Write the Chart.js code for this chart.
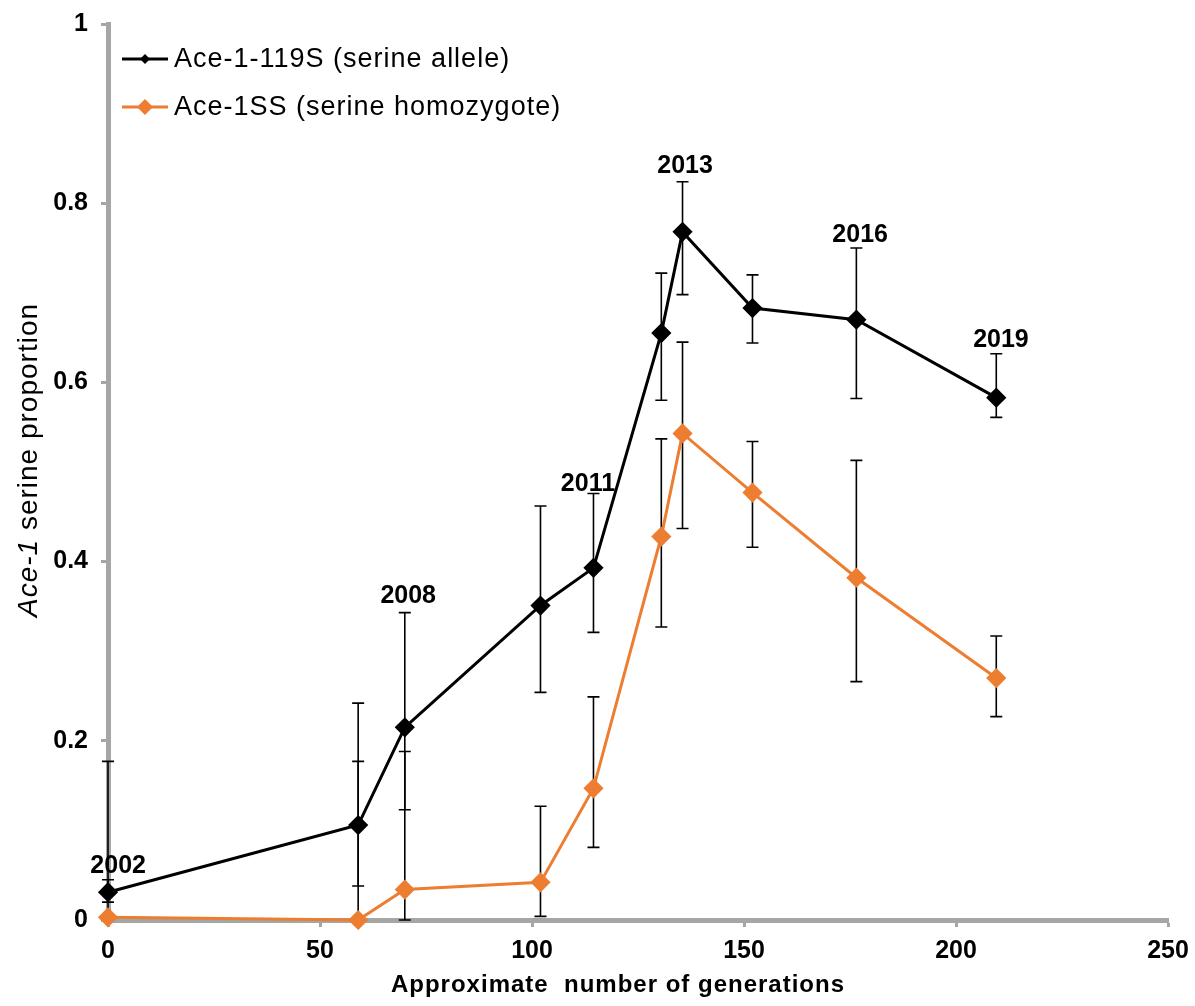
<!DOCTYPE html>
<html>
<head>
<meta charset="utf-8">
<script src="https://cdn.jsdelivr.net/npm/chart.js@4.4.1/dist/chart.umd.min.js"></script>
<style>
  html, body { margin: 0; padding: 0; background: #fff; }
  #wrap { width: 1195px; height: 1006px; position: relative; }
</style>
</head>
<body>
<div id="wrap"><canvas id="chart" width="1195" height="1006"></canvas></div>
<script>
// approximate number of generations (x) for each sampling year
const generations = [0, 59, 70, 102, 114.5, 130.5, 135.5, 152, 176.5, 209.5];

// Ace-1-119S (serine allele)
const alleleValues = [0.031, 0.106, 0.215, 0.351, 0.393, 0.655, 0.768, 0.683, 0.670, 0.583];
const alleleUpper  = [0.177, 0.242, 0.343, 0.462, 0.476, 0.722, 0.824, 0.720, 0.750, 0.632];
const alleleLower  = [0.020, 0.038, 0.123, 0.254, 0.321, 0.580, 0.698, 0.644, 0.582, 0.561];

// Ace-1SS (serine homozygote)
const homoValues = [0.003, 0.0, 0.034, 0.042, 0.147, 0.428, 0.543, 0.477, 0.382, 0.270];
const homoUpper  = [0.045, 0.177, 0.188, 0.127, 0.249, 0.537, 0.645, 0.534, 0.513, 0.317];
const homoLower  = [0.0, 0.0, 0.0, 0.004, 0.081, 0.327, 0.437, 0.416, 0.266, 0.227];

// year annotations, placed in data coordinates
const yearLabels = ["2002", "2008", "2011", "2013", "2016", "2019"];
const yearX = [2.4, 70.8, 113.2, 136.1, 177.4, 210.6];
const yearY = [0.060, 0.361, 0.487, 0.841, 0.764, 0.647];

const xTicks = [0, 50, 100, 150, 200, 250];
const yTicks = [0, 0.2, 0.4, 0.6, 0.8, 1];

const ORANGE = "#ED7D31";
const AXIS_GREY = "#a6a6a6";
const FONT = "'Liberation Sans', Arial, sans-serif";

function toPoints(xs, ys) {
  return xs.map((x, i) => ({ x: x, y: ys[i] }));
}

// error bars, drawn under the lines
const errorBars = {
  id: "errorBars",
  beforeDatasetsDraw(chart) {
    const ctx = chart.ctx;
    const xs = chart.scales.x;
    const ys = chart.scales.y;
    const sets = [[alleleUpper, alleleLower], [homoUpper, homoLower]];
    ctx.save();
    ctx.strokeStyle = "#000";
    ctx.lineWidth = 1.6;
    sets.forEach(([up, lo]) => {
      generations.forEach((g, i) => {
        const px = xs.getPixelForValue(g);
        const top = ys.getPixelForValue(up[i]);
        const bot = ys.getPixelForValue(lo[i]);
        ctx.beginPath();
        ctx.moveTo(px, top); ctx.lineTo(px, bot);
        ctx.moveTo(px - 6, top); ctx.lineTo(px + 6, top);
        ctx.moveTo(px - 6, bot); ctx.lineTo(px + 6, bot);
        ctx.stroke();
      });
    });
    ctx.restore();
  }
};

// legend box, year labels, x title and the mixed-style y title
const extras = {
  id: "extras",
  afterDraw(chart) {
    const ctx = chart.ctx;
    const area = chart.chartArea;
    const xs = chart.scales.x;
    const ys = chart.scales.y;
    ctx.save();

    // year labels
    ctx.fillStyle = "#000";
    ctx.font = "bold 25px " + FONT;
    ctx.textAlign = "center";
    ctx.textBaseline = "middle";
    yearLabels.forEach((lab, i) => {
      ctx.fillText(lab, xs.getPixelForValue(yearX[i]), ys.getPixelForValue(yearY[i]));
    });

    // x axis title
    ctx.letterSpacing = "1px";
    ctx.font = "bold 24px " + FONT;
    ctx.fillText("Approximate  number of generations", (area.left + area.right) / 2 - 20, 985);

    // legend
    const items = chart.data.datasets;
    items.forEach((ds, i) => {
      const y = area.top + 35 + i * 48;
      const x0 = area.left + 14;
      ctx.strokeStyle = ds.borderColor;
      ctx.lineWidth = 3;
      ctx.beginPath();
      ctx.moveTo(x0, y); ctx.lineTo(x0 + 46, y);
      ctx.stroke();
      const r = i === 0 ? 5 : 8;
      ctx.fillStyle = ds.borderColor;
      ctx.beginPath();
      ctx.moveTo(x0 + 23, y - r); ctx.lineTo(x0 + 23 + r, y);
      ctx.lineTo(x0 + 23, y + r); ctx.lineTo(x0 + 23 - r, y);
      ctx.closePath();
      ctx.fill();
      ctx.fillStyle = "#000";
      ctx.font = "27px " + FONT;
      ctx.textAlign = "left";
      ctx.textBaseline = "middle";
      ctx.fillText(ds.label, x0 + 52, y + 1);
    });

    // y axis title: "Ace-1" italic, rest upright
    ctx.translate(29, (area.top + area.bottom) / 2 - 12);
    ctx.rotate(-Math.PI / 2);
    ctx.textBaseline = "middle";
    ctx.textAlign = "left";
    const part1 = "Ace-1";
    const part2 = " serine proportion";
    ctx.font = "italic 28px " + FONT;
    const w1 = ctx.measureText(part1).width;
    ctx.font = "28px " + FONT;
    const w2 = ctx.measureText(part2).width;
    const start = -(w1 + w2) / 2;
    ctx.font = "italic 28px " + FONT;
    ctx.fillText(part1, start, 0);
    ctx.font = "28px " + FONT;
    ctx.fillText(part2, start + w1, 0);
    ctx.restore();
  }
};

const ctx = document.getElementById("chart").getContext("2d");
new Chart(ctx, {
  type: "line",
  data: {
    datasets: [
      {
        label: "Ace-1-119S (serine allele)",
        data: toPoints(generations, alleleValues),
        borderColor: "#000",
        backgroundColor: "#000",
        borderWidth: 3,
        pointStyle: "rectRot",
        pointRadius: 8,
        pointBackgroundColor: "#000",
        pointBorderColor: "#000",
        tension: 0,
        clip: false
      },
      {
        label: "Ace-1SS (serine homozygote)",
        data: toPoints(generations, homoValues),
        borderColor: ORANGE,
        backgroundColor: ORANGE,
        borderWidth: 3,
        pointStyle: "rectRot",
        pointRadius: 8,
        pointBackgroundColor: ORANGE,
        pointBorderColor: ORANGE,
        tension: 0,
        clip: false
      }
    ]
  },
  options: {
    responsive: false,
    animation: false,
    layout: { padding: { top: 24, right: 27, left: 0, bottom: 0 } },
    plugins: {
      legend: { display: false },
      tooltip: { enabled: false }
    },
    scales: {
      x: {
        type: "linear",
        min: 0,
        max: 250,
        afterBuildTicks: s => { s.ticks = xTicks.map(v => ({ value: v })); },
        afterFit: s => {
          s.height = 86;
          s.paddingLeft = 0;
          s.paddingRight = 0;
        },
        ticks: {
          color: "#000",
          padding: 9,
          font: { family: FONT, size: 25, weight: "bold" }
        },
        grid: {
          drawOnChartArea: false,
          drawTicks: true,
          tickLength: 7,
          tickColor: AXIS_GREY,
          tickWidth: 3
        },
        border: { color: AXIS_GREY, width: 5 }
      },
      y: {
        type: "linear",
        min: 0,
        max: 1,
        afterBuildTicks: s => { s.ticks = yTicks.map(v => ({ value: v })); },
        afterFit: s => {
          s.width = 108;
          s.paddingTop = 0;
          s.paddingBottom = 0;
        },
        ticks: {
          color: "#000",
          padding: 13,
          font: { family: FONT, size: 25, weight: "bold" },
          callback: v => String(Math.round(v * 10) / 10)
        },
        grid: {
          drawOnChartArea: false,
          drawTicks: true,
          tickLength: 7,
          tickColor: AXIS_GREY,
          tickWidth: 3
        },
        border: { color: AXIS_GREY, width: 5 }
      }
    }
  },
  plugins: [errorBars, extras]
});
</script>
</body>
</html>
